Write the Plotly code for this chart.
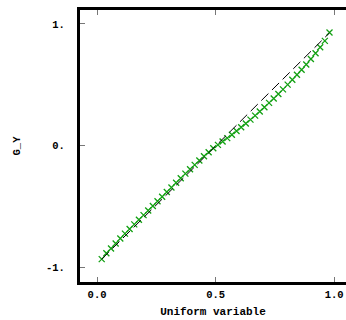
import plotly.graph_objects as go

# Data
uniform_x = [i / 51 for i in range(1, 51)]
g_y = [-0.935, -0.887, -0.847, -0.806, -0.765, -0.725, -0.687, -0.649, -0.611, -0.573,
       -0.535, -0.497, -0.459, -0.421, -0.383, -0.345, -0.307, -0.269, -0.231, -0.195,
       -0.159, -0.123, -0.089, -0.056, -0.023, 0.005, 0.033, 0.061, 0.089, 0.119,
       0.150, 0.181, 0.213, 0.246, 0.280, 0.315, 0.351, 0.387, 0.424, 0.462,
       0.501, 0.541, 0.582, 0.624, 0.667, 0.712, 0.759, 0.808, 0.861, 0.930]
ref_x = [0.0196, 0.9804]
ref_y = [-0.935, 0.927]
x_tickvals = [0.0, 0.5, 1.0]
x_ticktext = ["0.0", "0.5", "1.0"]
y_tickvals = [-1.0, 0.0, 1.0]
y_ticktext = ["-1.", "0.", "1."]

font = dict(family="Liberation Mono, Courier New, monospace", size=11, color="black", weight="bold")
tfont = dict(family="Liberation Mono, Courier New, monospace", size=10.5, color="black", weight="bold")

fig = go.Figure()
fig.add_trace(go.Scatter(x=uniform_x, y=g_y, mode="markers",
                         marker=dict(symbol="x-thin", size=6, line=dict(color="#12a012", width=1.3)),
                         showlegend=False))
fig.add_trace(go.Scatter(x=ref_x, y=ref_y, mode="lines",
                         line=dict(color="black", width=1, dash="10px,5px"),
                         showlegend=False))

fig.update_layout(
    width=346, height=320,
    margin=dict(l=80, r=0, t=10, b=38),
    paper_bgcolor="white", plot_bgcolor="white",
    font=font,
    xaxis=dict(range=[-0.072, 1.05], tickvals=x_tickvals, ticktext=x_ticktext, automargin=False,
               showgrid=False, zeroline=False, showline=True, linecolor="black", linewidth=3,
               mirror="ticks", ticks="inside", ticklen=5, tickcolor="#777", tickwidth=1,
               tickfont=tfont, title=dict(text="Uniform variable", font=font, standoff=8)),
    yaxis=dict(range=[-1.123, 1.115], tickvals=y_tickvals, ticktext=y_ticktext, automargin=False,
               showgrid=False, zeroline=False, showline=True, linecolor="black", linewidth=3,
               ticks="inside", ticklen=5, tickcolor="#777", tickwidth=1,
               ticklabelstandoff=10,
               tickfont=tfont, title=dict(text="G_Y", font=tfont, standoff=24)),
)

fig.write_html("out.html", config={"displayModeBar": False},
               post_script="document.body.style.margin='0';document.body.style.overflow='hidden';")
